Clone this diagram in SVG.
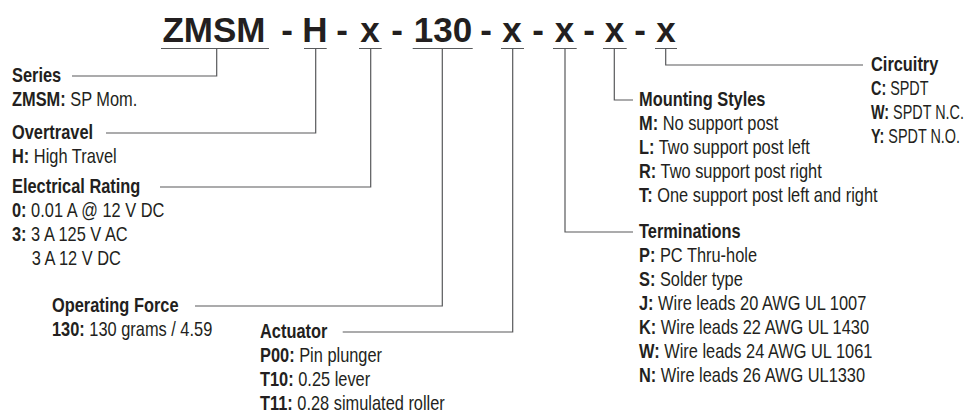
<svg xmlns="http://www.w3.org/2000/svg" width="973" height="415" viewBox="0 0 973 415">
<style>
.t{font-family:"Liberation Sans",Arial,sans-serif;font-weight:bold;font-size:35px;fill:#231f20;text-anchor:middle}
.h{font-family:"Liberation Sans",Arial,sans-serif;font-weight:bold;font-size:20px;fill:#231f20}
.b{font-family:"Liberation Sans",Arial,sans-serif;font-size:20px;fill:#231f20}
.b tspan.k{font-weight:bold}
.c{fill:none;stroke:#58595b;stroke-width:1.2}
</style>
<rect width="973" height="415" fill="#fff"/>
<g id="title">
<text class="t" x="214" y="42">ZMSM</text>
<text class="t" x="287" y="42">-</text>
<text class="t" x="315" y="42">H</text>
<text class="t" x="342" y="42">-</text>
<text class="t" x="370" y="42">x</text>
<text class="t" x="397" y="42">-</text>
<text class="t" x="443" y="42">130</text>
<text class="t" x="486" y="42">-</text>
<text class="t" x="512" y="42">x</text>
<text class="t" x="538" y="42">-</text>
<text class="t" x="564.5" y="42">x</text>
<text class="t" x="589" y="42">-</text>
<text class="t" x="614.5" y="42">x</text>
<text class="t" x="640" y="42">-</text>
<text class="t" x="666" y="42">x</text>
</g>
<g id="connectors" class="c">
<path d="M161 48.5H269M304 48.5H326.7M359 48.5H381.7M412.7 48.5H472.7M501 48.5H524M553 48.5H576.7M603 48.5H626.7M655 48.5H677"/>
<path d="M216.7 48.5V76H72"/>
<path d="M315.7 48.5V133H106"/>
<path d="M370.7 48.5V187H160"/>
<path d="M442.3 48.5V306H195"/>
<path d="M512.7 48.5V332H342.7"/>
<path d="M565 48.5V232H633"/>
<path d="M614.3 48.5V100H633"/>
<path d="M665.7 48.5V65H863"/>
</g>
<g id="series" transform="translate(12,0) scale(0.82,1)">
<text class="h" x="0" y="82">Series</text>
<text class="b" x="0" y="106"><tspan class="k">ZMSM:</tspan> SP Mom.</text>
</g>
<g id="overtravel" transform="translate(12,0) scale(0.82,1)">
<text class="h" x="0" y="139">Overtravel</text>
<text class="b" x="0" y="163"><tspan class="k">H:</tspan> High Travel</text>
</g>
<g id="electrical-rating" transform="translate(12,0) scale(0.82,1)">
<text class="h" x="0" y="193">Electrical Rating</text>
<text class="b" x="0" y="217"><tspan class="k">0:</tspan> 0.01 A @ 12 V DC</text>
<text class="b" x="0" y="241"><tspan class="k">3:</tspan> 3 A 125 V AC</text>
<text class="b" x="24" y="265">3 A 12 V DC</text>
</g>
<g id="operating-force" transform="translate(52,0) scale(0.82,1)">
<text class="h" x="0" y="312">Operating Force</text>
<text class="b" x="0" y="336"><tspan class="k">130:</tspan> 130 grams / 4.59</text>
</g>
<g id="actuator" transform="translate(260,0) scale(0.82,1)">
<text class="h" x="0" y="338">Actuator</text>
<text class="b" x="0" y="362"><tspan class="k">P00:</tspan> Pin plunger</text>
<text class="b" x="0" y="386"><tspan class="k">T10:</tspan> 0.25 lever</text>
<text class="b" x="0" y="410"><tspan class="k">T11:</tspan> 0.28 simulated roller</text>
</g>
<g id="terminations" transform="translate(639,0) scale(0.82,1)">
<text class="h" x="0" y="238">Terminations</text>
<text class="b" x="0" y="262"><tspan class="k">P:</tspan> PC Thru-hole</text>
<text class="b" x="0" y="286"><tspan class="k">S:</tspan> Solder type</text>
<text class="b" x="0" y="310"><tspan class="k">J:</tspan> Wire leads 20 AWG UL 1007</text>
<text class="b" x="0" y="334"><tspan class="k">K:</tspan> Wire leads 22 AWG UL 1430</text>
<text class="b" x="0" y="358"><tspan class="k">W:</tspan> Wire leads 24 AWG UL 1061</text>
<text class="b" x="0" y="382"><tspan class="k">N:</tspan> Wire leads 26 AWG UL1330</text>
</g>
<g id="mounting-styles" transform="translate(639,0) scale(0.82,1)">
<text class="h" x="0" y="106">Mounting Styles</text>
<text class="b" x="0" y="130"><tspan class="k">M:</tspan> No support post</text>
<text class="b" x="0" y="154"><tspan class="k">L:</tspan> Two support post left</text>
<text class="b" x="0" y="178"><tspan class="k">R:</tspan> Two support post right</text>
<text class="b" x="0" y="202"><tspan class="k">T:</tspan> One support post left and right</text>
</g>
<g id="circuitry">
<text class="h" x="0" y="71" transform="translate(871,0) scale(0.82,1)">Circuitry</text>
<g transform="translate(871,0) scale(0.72,1)">
<text class="b" x="0" y="95"><tspan class="k">C:</tspan> SPDT</text>
<text class="b" x="0" y="119"><tspan class="k">W:</tspan> SPDT N.C.</text>
<text class="b" x="0" y="143"><tspan class="k">Y:</tspan> SPDT N.O.</text>
</g>
</g>
</svg>
